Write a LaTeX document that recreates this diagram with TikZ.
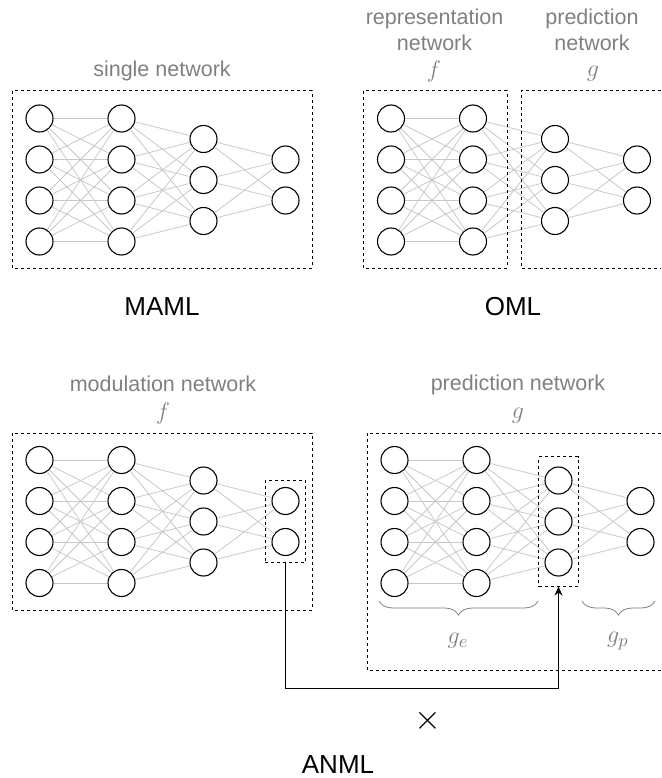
\documentclass[tikz,border=0pt]{standalone}
\usepackage{fontspec}
\setmainfont{Liberation Sans}
\usepackage{xcolor}
\usetikzlibrary{arrows.meta,fit,calc}
\usetikzlibrary{decorations.pathreplacing}

\definecolor{labelgray}{HTML}{808080}
\definecolor{edgegray}{HTML}{C8C8C8}

\begin{document}
\begin{tikzpicture}[x=1pt, y=-1pt, >={Stealth[length=9pt,width=8pt]},
	neuron/.style={circle,inner sep=0pt,minimum size=27pt,draw=black,line width=1.1pt},
	synapse/.style={draw=edgegray,line width=0.8pt},
	netbox/.style={draw,dashed,line width=1pt},
	caption/.style={font=\fontsize{21.5}{26}\selectfont,text=labelgray,align=center},
	symbol/.style={font=\fontsize{12}{14}\selectfont,text=labelgray,scale=2},
	method/.style={font=\fontsize{26}{30}\selectfont}]

\useasboundingbox (0,0) rectangle (661,778);

\foreach \p/\x/\y in {maml/39.5/180, oml/391/180, modn/39.5/521.5, pred/394.5/521.5}
{
	\foreach \i in {1,...,4}
	{
		\node[neuron] (\p-a\i) at (\x,\y+41*\i-102.5) {};
		\node[neuron] (\p-b\i) at (\x+82,\y+41*\i-102.5) {};
	}
	\foreach \i in {1,2,3}
	{
		\node[neuron] (\p-c\i) at (\x+164,\y+41*\i-82) {};
	}
	\foreach \i in {1,2}
	{
		\node[neuron] (\p-d\i) at (\x+246,\y+41*\i-61.5) {};
	}
}

\foreach \p in {maml,oml,modn,pred}
{
	\foreach \i in {1,...,4}
	{
		\foreach \j in {1,...,4}
		{
			\draw[synapse] (\p-a\i) -- (\p-b\j);
		}
		\foreach \j in {1,2,3}
		{
			\draw[synapse] (\p-b\i) -- (\p-c\j);
		}
	}
	\foreach \i in {1,2,3}
	{
		\foreach \j in {1,2}
		{
			\draw[synapse] (\p-c\i) -- (\p-d\j);
		}
	}
}

\draw[netbox] (12,91) rectangle (312,268);
\draw[netbox] (363,91) rectangle (507,268);
\draw[netbox] (661,91) -- (521,91) -- (521,268) -- (661,268);
\draw[netbox] (12,433) rectangle (312,610);
\draw[netbox] (661,433) -- (367,433) -- (367,670) -- (661,670);

\node[netbox, fit=(modn-d1)(modn-d2), inner xsep=6pt, inner ysep=6.5pt] (modsel) {};
\node[netbox, fit=(pred-c1)(pred-c3), inner xsep=5.5pt, inner ysep=9.5pt] (predsel) {};

\coordinate (bend) at (0,688);
\draw[->, line width=1pt] (modsel.south) -- (modsel.south |- bend) -| (predsel.south);

\draw[labelgray, line width=0.8pt, decorate, decoration={brace, mirror, amplitude=14pt}] (379,601) -- (538,601);
\draw[labelgray, line width=0.8pt, decorate, decoration={brace, mirror, amplitude=14pt}] (582,601) -- (655,601);
\node[symbol, font=\fontsize{13}{15}\selectfont] (ge) at (458,641) {$g_e$};
\node[symbol, font=\fontsize{13}{15}\selectfont] (gp) at (618,641) {$g_p$};

\node[caption] (mamltitle) at (162,71) {single network};
\node[caption] (reptitle) at (434.5,30) {representation\\network};
\node[symbol] (repf) at (434,72) {$f$};
\node[caption] (predtitle) at (592,30) {prediction\\network};
\node[symbol] (predg) at (593,74) {$g$};
\node[caption] (modtitle) at (163,384) {modulation network};
\node[symbol] (modf) at (163,413) {$f$};
\node[caption] (anmltitle) at (518,385) {prediction network};
\node[symbol] (anmlg) at (518,416) {$g$};

\node[method] (maml) at (162,307) {MAML};
\node[method] (oml) at (513,307) {OML};
\node[symbol, text=black, font=\fontsize{18}{20}\selectfont] (times) at (428,721) {$\times$};
\node[method] (anml) at (338,765) {ANML};

\end{tikzpicture}
\end{document}
